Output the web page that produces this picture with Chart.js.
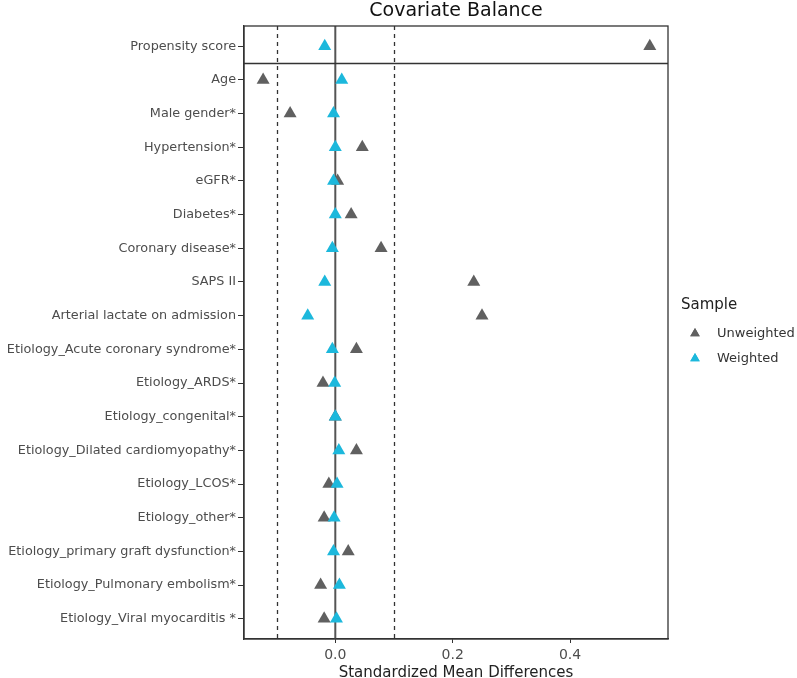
<!DOCTYPE html>
<html>
<head>
<meta charset="utf-8">
<script src="https://cdn.jsdelivr.net/npm/chart.js@4.4.1/dist/chart.umd.min.js"></script>
<style>
  html, body { margin: 0; padding: 0; background: #fff; }
  #wrap { width: 797px; height: 678px; }
</style>
</head>
<body>
<div id="wrap"><canvas id="chart" width="797" height="678"></canvas></div>
<script>
// covariates, top to bottom (first one sits in its own panel)
const covariates = [
  'Propensity score',
  'Age',
  'Male gender*',
  'Hypertension*',
  'eGFR*',
  'Diabetes*',
  'Coronary disease*',
  'SAPS II',
  'Arterial lactate on admission',
  'Etiology_Acute coronary syndrome*',
  'Etiology_ARDS*',
  'Etiology_congenital*',
  'Etiology_Dilated cardiomyopathy*',
  'Etiology_LCOS*',
  'Etiology_other*',
  'Etiology_primary graft dysfunction*',
  'Etiology_Pulmonary embolism*',
  'Etiology_Viral myocarditis *'
];

const unweighted = [0.536, -0.123, -0.077, 0.046, 0.004, 0.027, 0.078, 0.236, 0.250, 0.036,
  -0.021, 0.000, 0.036, -0.011, -0.019, 0.022, -0.025, -0.019];
const weighted = [-0.018, 0.011, -0.003, 0.000, -0.003, 0.000, -0.005, -0.018, -0.047, -0.005,
  -0.001, 0.000, 0.006, 0.003, -0.002, -0.003, 0.007, 0.002];

const xTicks = [0, 0.2, 0.4];
const thresholds = [-0.1, 0.1];

const FONT = '"DejaVu Sans", "Liberation Sans", Arial, sans-serif';

const toPoints = vals => vals.map((v, i) => ({ x: v, y: i }));

// frame, panel separator, zero line, threshold lines, title and legend
const decorations = {
  id: 'decorations',
  beforeDatasetsDraw(chart) {
    const { ctx, chartArea, scales } = chart;
    const x = scales.x;
    ctx.save();
    // dashed threshold lines
    ctx.strokeStyle = '#333';
    ctx.lineWidth = 1.3;
    ctx.setLineDash([4, 4]);
    thresholds.forEach(t => {
      const px = Math.round(x.getPixelForValue(t)) + 0.5;
      ctx.beginPath();
      ctx.moveTo(px, chartArea.top);
      ctx.lineTo(px, chartArea.bottom);
      ctx.stroke();
    });
    ctx.setLineDash([]);
    // zero line
    ctx.strokeStyle = '#555';
    ctx.lineWidth = 2;
    const zx = x.getPixelForValue(0);
    ctx.beginPath();
    ctx.moveTo(zx, chartArea.top);
    ctx.lineTo(zx, chartArea.bottom);
    ctx.stroke();
    ctx.restore();
  },
  afterDraw(chart) {
    const { ctx, chartArea, scales } = chart;
    ctx.save();
    ctx.strokeStyle = '#333';
    ctx.lineWidth = 1.3;
    ctx.strokeRect(chartArea.left, chartArea.top, chartArea.right - chartArea.left, chartArea.bottom - chartArea.top);
    // separator between propensity score panel and covariates
    const sy = Math.round(scales.y.getPixelForValue(0.5)) + 0.5;
    ctx.beginPath();
    ctx.moveTo(chartArea.left, sy);
    ctx.lineTo(chartArea.right, sy);
    ctx.stroke();

    // title
    ctx.fillStyle = '#111';
    ctx.font = '19px ' + FONT;
    ctx.textAlign = 'center';
    ctx.textBaseline = 'alphabetic';
    ctx.fillText('Covariate Balance', (chartArea.left + chartArea.right) / 2, 16);

    // legend
    const lx = chartArea.right + 13;
    const midY = (chartArea.top + chartArea.bottom) / 2;
    ctx.textAlign = 'left';
    ctx.textBaseline = 'middle';
    ctx.fillStyle = '#222';
    ctx.font = '15px ' + FONT;
    ctx.fillText('Sample', lx, midY - 27);
    ctx.font = '13px ' + FONT;
    chart.data.datasets.forEach((ds, i) => {
      const iy = midY + 1 + i * 25;
      ctx.fillStyle = ds.backgroundColor;
      ctx.beginPath();
      Chart.helpers.drawPoint(ctx, { pointStyle: 'triangle', radius: 5.5, borderWidth: 0 }, lx + 14, iy);
      ctx.fill();
      ctx.fillStyle = '#333';
      ctx.fillText(ds.label, lx + 36, iy);
    });
    ctx.restore();
  }
};

Chart.defaults.font.family = FONT;

new Chart(document.getElementById('chart'), {
  type: 'scatter',
  data: {
    datasets: [
      {
        label: 'Unweighted',
        data: toPoints(unweighted),
        pointStyle: 'triangle',
        pointRadius: 7.5,
        pointHoverRadius: 7.5,
        backgroundColor: '#606060',
        borderColor: '#606060',
        borderWidth: 0,
        order: 1
      },
      {
        label: 'Weighted',
        data: toPoints(weighted),
        pointStyle: 'triangle',
        pointRadius: 7.5,
        pointHoverRadius: 7.5,
        backgroundColor: '#1cb8dc',
        borderColor: '#1cb8dc',
        borderWidth: 0,
        order: 0
      }
    ]
  },
  options: {
    responsive: false,
    animation: false,
    layout: { padding: { top: 26, right: 129, bottom: 0, left: 0 } },
    scales: {
      x: {
        type: 'linear',
        min: -0.1556,
        max: 0.567,
        afterBuildTicks: axis => { axis.ticks = xTicks.map(v => ({ value: v })); },
        afterFit: axis => { axis.height = 39; },
        ticks: {
          color: '#4d4d4d',
          font: { size: 14 },
          padding: 4,
          callback: v => v.toFixed(1)
        },
        grid: { display: true, drawOnChartArea: false, drawTicks: true, tickLength: 4, color: '#333' },
        border: { display: true, color: '#333', width: 1.3 },
        title: {
          display: true,
          text: 'Standardized Mean Differences',
          color: '#222',
          font: { size: 15 },
          padding: { top: 0, bottom: -4 }
        }
      },
      y: {
        type: 'linear',
        reverse: true,
        min: -0.6,
        max: 17.6,
        afterBuildTicks: axis => { axis.ticks = covariates.map((c, i) => ({ value: i })); },
        afterFit: axis => { axis.width = 244; },
        ticks: {
          color: '#4d4d4d',
          font: { size: 12.8 },
          padding: 2,
          autoSkip: false,
          callback: v => covariates[v]
        },
        grid: { display: true, drawOnChartArea: false, drawTicks: true, tickLength: 6, color: '#333' },
        border: { display: true, color: '#333', width: 1.3 }
      }
    },
    plugins: {
      tooltip: { enabled: false },
      legend: { display: false }
    }
  },
  plugins: [decorations]
});
</script>
</body>
</html>
